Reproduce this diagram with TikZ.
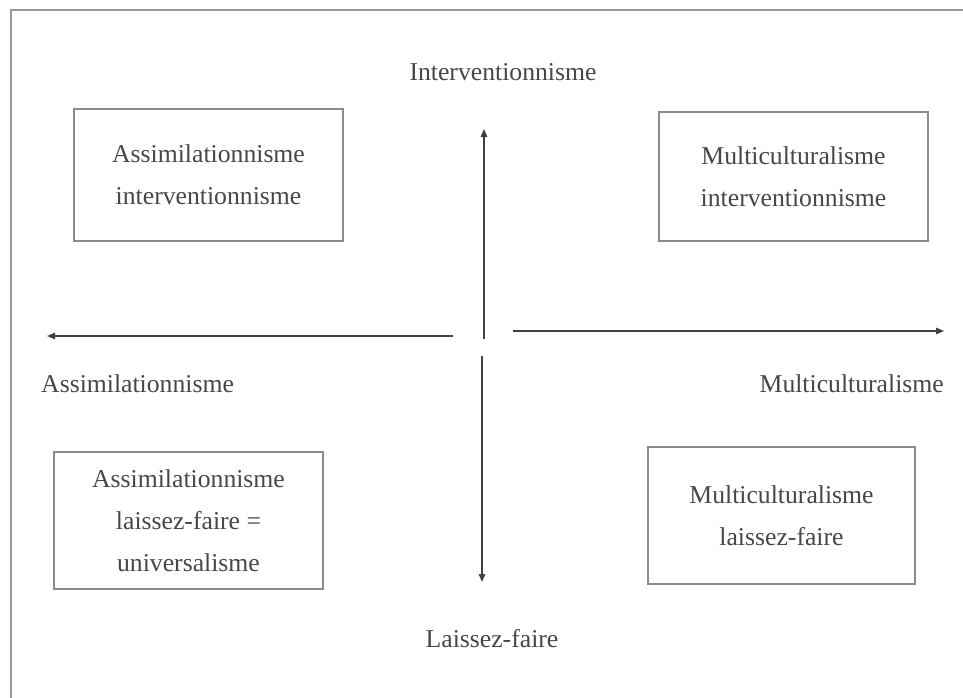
\documentclass[tikz,border=0pt]{standalone}
\usepackage{fontspec}
\setmainfont{Liberation Serif}
\usetikzlibrary{arrows.meta}

\begin{document}
\begin{tikzpicture}[x=1pt,y=-1pt,
    box/.style={draw=black!45, line width=1.8pt, minimum width=269pt, align=center,
      text=black!72, font=\fontsize{25.7}{42}\selectfont},
    axislabel/.style={text=black!72, font=\fontsize{25.7}{30}\selectfont, inner sep=0pt},
    axis/.style={draw=black!75, line width=1.4pt, -{Triangle[length=8pt,width=6.5pt]}}]
      \useasboundingbox (0,0) rectangle (963,698);
      % outer frame
      \draw [black!40, line width=2.6pt] (11,698) -- (11,10) -- (963,10);
      % the four quadrants
      \node [box, minimum height=132pt] (assint) at (208.5,175) {Assimilationnisme\\interventionnisme};
      \node [box, minimum height=129pt] (mulint) at (793.5,176.5) {Multiculturalisme\\interventionnisme};
      \node [box, minimum height=137pt] (asslf) at (188.5,520.5) {Assimilationnisme\\laissez-faire =\\universalisme};
      \node [box, minimum height=137pt, minimum width=267pt] (mullf) at (781.5,515.5) {Multiculturalisme\\laissez-faire};
      % axis labels
      \node [axislabel] (interv) at (503,72) {Interventionnisme};
      \node [axislabel] (laisser) at (492,639) {Laissez-faire};
      \node [axislabel, anchor=west] (assim) at (41,384) {Assimilationnisme};
      \node [axislabel, anchor=east] (multi) at (944,384) {Multiculturalisme};
      % axes
      \coordinate (up0) at (484,339);
      \coordinate (up1) at (484,129);
      \coordinate (dn0) at (482,356);
      \coordinate (dn1) at (482,582);
      \coordinate (lt0) at (453,336);
      \coordinate (lt1) at (47,336);
      \coordinate (rt0) at (513,331);
      \coordinate (rt1) at (944,331);
      \draw [axis] (up0) -- (up1);
      \draw [axis] (dn0) -- (dn1);
      \draw [axis] (lt0) -- (lt1);
      \draw [axis] (rt0) -- (rt1);
\end{tikzpicture}
\end{document}
